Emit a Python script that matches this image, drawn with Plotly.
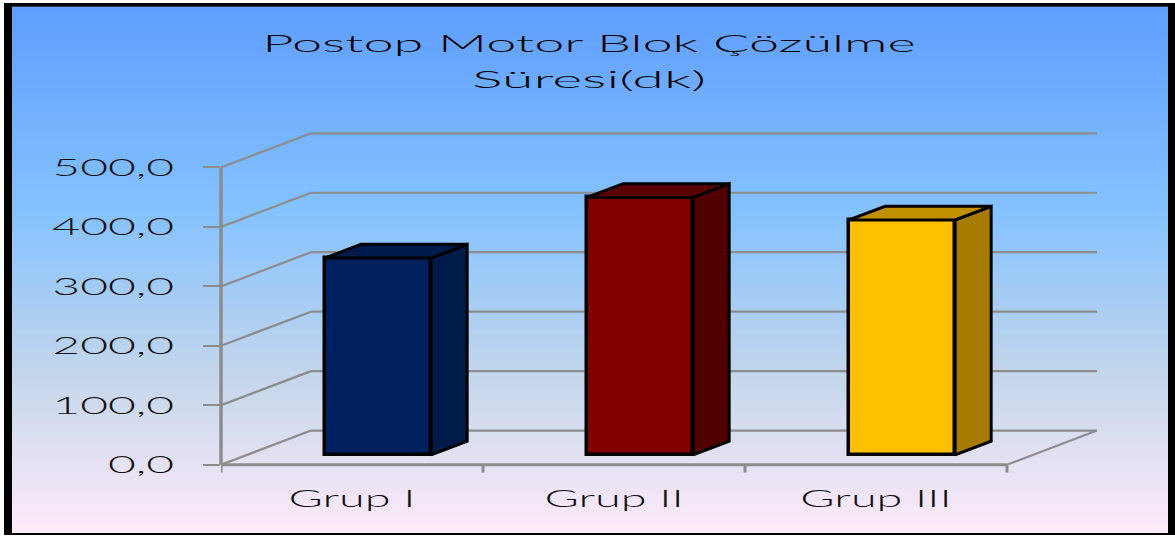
import plotly.graph_objects as go

# Chart content
title_lines = ["Postop Motor Blok Çözülme", "Süresi(dk)"]
groups = ["Grup I", "Grup II", "Grup III"]
minutes = [331, 433, 395]
value_ticks = [0, 100, 200, 300, 400, 500]
value_tick_labels = ["0,0", "100,0", "200,0", "300,0", "400,0", "500,0"]
front_colors = ["#002060", "#800000", "#FFC000"]
side_colors = ["#001A49", "#500000", "#A67C00"]
top_colors = ["#001A4D", "#5A0000", "#C09000"]

WIDTH, HEIGHT = 1175, 550
AXIS_LEFT, AXIS_RIGHT, AXIS_BOTTOM, AXIS_TOP = 221, 1110, 476, 125
PX_PER_GROUP = 262
PX_PER_UNIT = 0.609
DEPTH_X = 90 / PX_PER_GROUP      # full floor depth in group units
DEPTH_Y = 35 / PX_PER_UNIT       # full floor depth in value units
BAR_WIDTH = 0.405
BAR_FRONT, BAR_BACK = 0.29, 0.69  # where a bar sits within the floor depth
GRID = "#8C8C8C"
x_max = (AXIS_RIGHT - AXIS_LEFT) / PX_PER_GROUP
y_max = (AXIS_BOTTOM - AXIS_TOP) / PX_PER_UNIT


def project(x, value, depth):
    """Oblique projection of a point standing at a given floor depth."""
    return x + depth * DEPTH_X, value + depth * DEPTH_Y


shapes = []

# Vertical background gradient built from thin overlapping bands
stops = [(0.0, (0x5E, 0x9E, 0xFF)), (0.39, (0x85, 0xC2, 0xFF)),
         (0.70, (0xC4, 0xD6, 0xEB)), (1.0, (0xFF, 0xEB, 0xFA))]


def gradient_color(t):
    for (t0, c0), (t1, c1) in zip(stops, stops[1:]):
        if t <= t1:
            f = (t - t0) / (t1 - t0)
            return "rgb(%d,%d,%d)" % tuple(round(a + (b - a) * f) for a, b in zip(c0, c1))
    return "rgb(255,235,250)"


INNER_TOP, INNER_BOTTOM = 7, 546
for py in range(INNER_TOP, INNER_BOTTOM, 2):
    shapes.append(dict(type="rect", xref="paper", yref="paper", layer="below",
                       x0=0, x1=1, y0=1 - py / HEIGHT, y1=1 - (py + 4) / HEIGHT,
                       fillcolor=gradient_color((py - INNER_TOP) / (INNER_BOTTOM - INNER_TOP)),
                       line_width=0))

# Black frame round the chart area
for x0, y0, x1, y1 in [(4, 3, 12, 548), (1168, 3, 1175, 548), (4, 3, 1175, 7), (4, 546, 1175, 548)]:
    shapes.append(dict(type="rect", xref="paper", yref="paper", layer="below",
                       x0=x0 / WIDTH, x1=x1 / WIDTH, y0=1 - y0 / HEIGHT, y1=1 - y1 / HEIGHT,
                       fillcolor="#000000", line_width=0))
# White margin outside the frame
shapes.append(dict(type="rect", xref="paper", yref="paper", layer="below",
                   x0=0, x1=1, y0=0, y1=1 - 548 / HEIGHT, fillcolor="#FFFFFF", line_width=0))
shapes.append(dict(type="rect", xref="paper", yref="paper", layer="below",
                   x0=0, x1=4 / WIDTH, y0=0, y1=1, fillcolor="#FFFFFF", line_width=0))


def grid_line(x0, y0, x1, y1, width=2.2, xref="x", yref="y"):
    shapes.append(dict(type="line", xref=xref, yref=yref, layer="below",
                       x0=x0, y0=y0, x1=x1, y1=y1, line=dict(color=GRID, width=width)))


# Back wall, side wall and floor lines
n = len(groups)
for v in value_ticks:
    bx, by = project(0, v, 1)
    grid_line(0, v, bx, by)
    grid_line(bx, by, project(n, v, 1)[0], by)
fx, fy = project(n, 0, 1)
grid_line(n, 0, fx, fy)

# Front edge of the floor and the value axis, free of the plot-area clip
floor_paper = 1 - AXIS_BOTTOM / HEIGHT
grid_line(0, floor_paper, n, floor_paper, 3, yref="paper")
axis_paper = AXIS_LEFT / WIDTH
grid_line(axis_paper, 0, axis_paper, value_ticks[-1], 3.5, xref="paper")

# Group boundary ticks under the floor's front edge
for i in range(n + 1):
    grid_line(i, floor_paper, i, floor_paper - 8 / HEIGHT, 3, yref="paper")

fig = go.Figure()

# Front faces are ordinary bars lifted onto the floor
centers = [project(i + 0.5, 0, BAR_FRONT)[0] for i in range(n)]
base = project(0, 0, BAR_FRONT)[1]
fig.add_trace(go.Bar(x=centers, y=minutes, base=[base] * n, width=BAR_WIDTH,
                     marker=dict(color=front_colors, line=dict(color="#000000", width=3.5)),
                     hoverinfo="skip", showlegend=False))

# Side and top faces derived from each bar's value
for i, value in enumerate(minutes):
    left = i + 0.5 - BAR_WIDTH / 2
    right = i + 0.5 + BAR_WIDTH / 2
    corners_side = [project(right, 0, BAR_FRONT), project(right, 0, BAR_BACK),
                    project(right, value, BAR_BACK), project(right, value, BAR_FRONT)]
    corners_top = [project(left, value, BAR_FRONT), project(left, value, BAR_BACK),
                   project(right, value, BAR_BACK), project(right, value, BAR_FRONT)]
    for corners, color in ((corners_side, side_colors[i]), (corners_top, top_colors[i])):
        xs, ys = zip(*(corners + corners[:1]))
        fig.add_trace(go.Scatter(x=xs, y=ys, mode="lines", fill="toself", fillcolor=color,
                                 line=dict(color="#000000", width=3),
                                 hoverinfo="skip", showlegend=False))

FONT = "Lato, 'DejaVu Sans', sans-serif"
fig.update_layout(
    width=WIDTH, height=HEIGHT, margin=dict(l=0, r=0, t=0, b=0), autosize=False,
    paper_bgcolor="#FFFFFF", plot_bgcolor="rgba(0,0,0,0)", shapes=shapes, bargap=0,
    title=dict(text="<br>".join(title_lines), x=589 / WIDTH, xanchor="center",
               y=1 - 52 / HEIGHT, yanchor="top",
               font=dict(family=FONT, size=24, color="#000000", weight=300)),
    xaxis=dict(domain=[AXIS_LEFT / WIDTH, AXIS_RIGHT / WIDTH], range=[0, x_max],
               tickvals=[i + 0.5 for i in range(n)], ticktext=groups, ticks="", showgrid=False,
               zeroline=False, showline=False, ticklabelstandoff=17,
               tickfont=dict(family=FONT, size=24, color="#111111", weight=300)),
    yaxis=dict(domain=[1 - AXIS_BOTTOM / HEIGHT, 1 - AXIS_TOP / HEIGHT], range=[0, y_max],
               tickvals=value_ticks, ticktext=value_tick_labels, ticks="outside", ticklen=17,
               tickwidth=2.2, tickcolor=GRID, showgrid=False, zeroline=False, showline=False,
               ticklabelstandoff=24,
               tickfont=dict(family=FONT, size=24, color="#111111", weight=300)),
)

# The labels are set wide: stretch the glyphs horizontally
post_script = """
var gd = document.getElementById('{plot_id}');
function fit(el, k) {
  var n = el.getComputedTextLength();
  el.setAttribute('lengthAdjust', 'spacingAndGlyphs');
  el.setAttribute('textLength', (n * k).toFixed(1));
}
gd.querySelectorAll('.ytick text').forEach(function (t) { fit(t, 2.0); });
gd.querySelectorAll('.xtick text').forEach(function (t) { fit(t, 1.95); });
var lines = gd.querySelectorAll('.gtitle tspan.line');
lines.forEach(function (t, i) {
  fit(t, i > 0 ? 2.39 : 2.25);
  if (i > 0) { t.setAttribute('y', parseFloat(t.getAttribute('y')) + 5); }
});
"""
fig.write_html("out.html", post_script=post_script)
